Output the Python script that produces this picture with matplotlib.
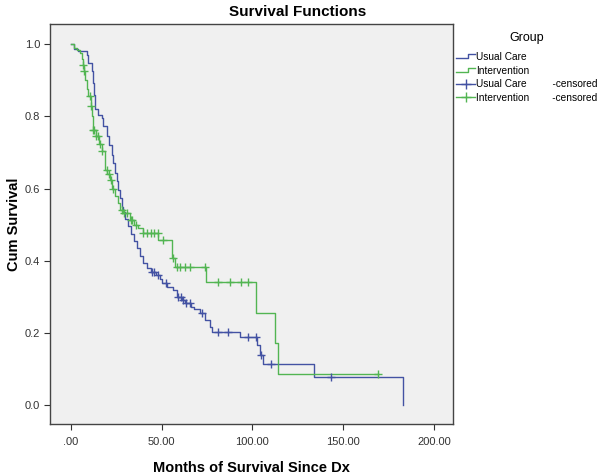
import numpy as np
import matplotlib.pyplot as plt
from matplotlib.lines import Line2D
from matplotlib.legend_handler import HandlerBase

plt.rcParams['font.family'] = ['Liberation Sans', 'DejaVu Sans']

# Usual Care step function (event time, survival after event)
usual_t = [0, 2, 4, 8.8, 9.7, 11.5, 12.4, 13.0, 13.4, 15.2, 17, 18, 19.8, 21, 22.5, 23.5,
           24.4, 25.3, 26.2, 27, 28, 29, 30, 31.7, 33, 35, 36.5, 38.1, 40, 41.8, 44, 47,
           49, 50, 53, 56.4, 58.3, 61, 63, 66, 68, 71.1, 74, 76.6, 77.5, 93.4, 102.5,
           104, 106, 133.9, 182.8]
usual_s = [1.0, 0.988, 0.982, 0.97, 0.948, 0.925, 0.893, 0.86, 0.82, 0.805, 0.796, 0.775,
           0.745, 0.72, 0.694, 0.67, 0.643, 0.62, 0.597, 0.575, 0.55, 0.535, 0.515, 0.495,
           0.475, 0.455, 0.435, 0.412, 0.395, 0.379, 0.37, 0.361, 0.35, 0.338, 0.328, 0.319,
           0.30, 0.29, 0.282, 0.273, 0.265, 0.254, 0.235, 0.217, 0.203, 0.188, 0.167, 0.139,
           0.113, 0.079, 0.0]
usual_cens = [44.5, 46, 48.2, 52.5, 59, 60.5, 62, 63.5, 65.6, 72.5, 81.1, 86.3, 97.6,
              102.2, 104.5, 110, 143.1]

# Intervention step function
interv_t = [0, 2, 3.5, 5.1, 6, 6.6, 7.3, 8, 9, 9.7, 11, 11.8, 12.4, 14, 15.5, 17, 18.9,
            20, 21.6, 23, 24.5, 26, 27.1, 28.9, 32.6, 35, 37, 39.9, 48.2, 55.5, 57.3,
            74.7, 102.2, 112.3, 113.8, 169.1]
interv_s = [1.0, 0.99, 0.985, 0.976, 0.96, 0.944, 0.925, 0.9, 0.875, 0.856, 0.83, 0.80,
            0.763, 0.745, 0.725, 0.705, 0.652, 0.64, 0.624, 0.6, 0.58, 0.56, 0.541, 0.532,
            0.513, 0.5, 0.49, 0.478, 0.458, 0.407, 0.382, 0.341, 0.256, 0.171, 0.086, 0.086]
interv_cens = [6.6, 7.3, 10.4, 11, 12.5, 13, 14, 15, 16, 17, 19.8, 21, 22, 23.4, 28, 29.5,
               31, 33, 34, 36, 40, 42, 44, 46, 48, 50.9, 56.5, 58.6, 60.1, 62.8, 65.6,
               73.8, 81.1, 87.6, 93.5, 97.6, 169.1]

x_ticks = [0, 50, 100, 150, 200]
x_labels = ['.00', '50.00', '100.00', '150.00', '200.00']
y_ticks = [0.0, 0.2, 0.4, 0.6, 0.8, 1.0]
y_labels = ['0.0', '0.2', '0.4', '0.6', '0.8', '1.0']

blue = '#4352a3'
green = '#52b552'


def surv_at(times, surv, t):
    """Survival value of the step curve at time t."""
    i = np.searchsorted(times, t, side='right') - 1
    return np.array(surv)[i]


class StepHandler(HandlerBase):
    """Legend glyph drawn as a small step, like SPSS."""
    def create_artists(self, legend, orig_handle, xdescent, ydescent,
                       width, height, fontsize, trans):
        x0 = -xdescent
        xs = [x0, x0 + 0.62 * width, x0 + 0.62 * width, x0 + width]
        ys = [0.25 * height - ydescent, 0.25 * height - ydescent,
              0.8 * height - ydescent, 0.8 * height - ydescent]
        ln = Line2D(xs, ys, color=orig_handle.get_color(), lw=1.0)
        ln.set_transform(trans)
        return [ln]


fig = plt.figure(figsize=(6.04, 4.76), dpi=100)
ax = fig.add_axes([0.0836, 0.109, 0.666, 0.841])
ax.set_facecolor('#f0f0f0')

ax.step(usual_t, usual_s, where='post', color=blue, lw=1.0)
ax.step(interv_t, interv_s, where='post', color=green, lw=1.0)

# censored marks sit on the curves
uy = [surv_at(usual_t, usual_s, t) for t in usual_cens]
iy = [surv_at(interv_t, interv_s, t) for t in interv_cens]
ax.plot(usual_cens, uy, ls='none', marker='+', color=blue, ms=5.5, mew=1.0)
ax.plot(interv_cens, iy, ls='none', marker='+', color=green, ms=5.5, mew=1.0)

ax.set_xlim(-11.1, 210.2)
ax.set_ylim(-0.053, 1.057)
ax.set_xticks(x_ticks)
ax.set_xticklabels(x_labels)
ax.set_yticks(y_ticks)
ax.set_yticklabels(y_labels)
ax.tick_params(direction='out', length=4, width=0.8, labelsize=8, colors='#333333')
ax.tick_params(axis='x', pad=5)
for sp in ax.spines.values():
    sp.set_color('#444444')
    sp.set_linewidth(1.0)

fig.text(0.493, 0.975, 'Survival Functions', fontsize=11, fontweight='bold',
         ha='center', va='center')
ax.set_xlabel('Months of Survival Since Dx', fontsize=10.5, fontweight='bold', labelpad=10)
ax.set_ylabel('Cum Survival', fontsize=10.5, fontweight='bold', labelpad=3)

step_u = Line2D([], [], color=blue, lw=1)
step_i = Line2D([], [], color=green, lw=1)
handles = [
    step_u,
    step_i,
    Line2D([], [], color=blue, marker='+', lw=1, ms=7),
    Line2D([], [], color=green, marker='+', lw=1, ms=7),
]
labels = ['Usual Care', 'Intervention',
          'Usual Care         -censored', 'Intervention        -censored']
leg = fig.legend(handles, labels, title='Group', loc='upper left',
                 bbox_to_anchor=(0.749, 0.942), frameon=False, fontsize=7.3,
                 title_fontsize=9, handlelength=1.8, handletextpad=0.12,
                 labelspacing=0.36, borderaxespad=0,
                 handler_map={step_u: StepHandler(), step_i: StepHandler()})
leg._legend_box.align = 'center'
leg._legend_box.sep = 6

fig.savefig('out.png', dpi=100)
